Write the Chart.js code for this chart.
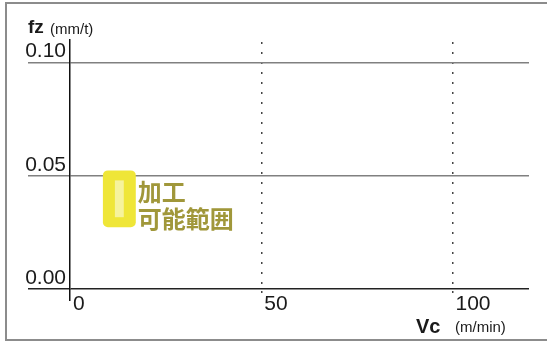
<!DOCTYPE html>
<html lang="ja">
<head>
    <meta charset="UTF-8">
    <title>加工可能範囲</title>
    <script src="https://cdn.jsdelivr.net/npm/chart.js"></script>
    <style>
        body { margin: 0; background: #fff; overflow: hidden; }
        canvas { display: block; }
    </style>
</head>
<body>
<canvas id="grafico" width="547" height="343"></canvas>
<script>
    // ejes
    const vcTicks = [0, 50, 100];
    const fzTicks = [0, 0.05, 0.10];
    const fzTickLabels = ['0.00', '0.05', '0.10'];
    const vcRange = [0, 120];
    const fzRange = [0, 0.11];

    // zona amarilla (Vc, fz)
    const zonaVc = [8.6, 17.2];
    const zonaFz = [0.0273, 0.0524];
    const zonaTexto = ['加工', '可能範囲'];

    const sans = "'Liberation Sans', Arial, sans-serif";

    // marco gris abierto a la derecha
    const marco = {
        id: 'marco',
        beforeDraw(chart) {
            const ctx = chart.ctx;
            ctx.save();
            ctx.strokeStyle = '#8c8c8c';
            ctx.lineWidth = 2;
            ctx.beginPath();
            ctx.moveTo(chart.width, 3);
            ctx.lineTo(6, 3);
            ctx.lineTo(6, 340);
            ctx.lineTo(chart.width, 340);
            ctx.stroke();
            ctx.restore();
        }
    };

    // dibuja la zona y los titulos de los ejes
    const extras = {
        id: 'extras',
        afterDraw(chart) {
            const ctx = chart.ctx;
            const x = chart.scales.x, y = chart.scales.y;
            const x0 = x.getPixelForValue(zonaVc[0]), x1 = x.getPixelForValue(zonaVc[1]);
            const y0 = y.getPixelForValue(zonaFz[1]), y1 = y.getPixelForValue(zonaFz[0]);
            ctx.save();
            ctx.fillStyle = '#efe638';
            ctx.beginPath();
            ctx.roundRect(x0, y0, x1 - x0, y1 - y0, 5);
            ctx.fill();
            ctx.fillStyle = '#f6f39c';
            ctx.fillRect(x0 + 12, y0 + 10, (x1 - x0) - 24, (y1 - y0) - 20);

            ctx.font = "bold 24px 'Noto Sans CJK JP'";
            ctx.textBaseline = 'middle';
            ctx.textAlign = 'left';
            ctx.lineJoin = 'round';
            zonaTexto.forEach((t, i) => {
                const ty = y0 + 21 + i * 27;
                ctx.strokeStyle = '#fff';
                ctx.lineWidth = 4;
                ctx.strokeText(t, x1 + 2, ty);
                ctx.fillStyle = '#a0973a';
                ctx.fillText(t, x1 + 2, ty);
            });

            // titulos
            ctx.fillStyle = '#1a1a1a';
            ctx.textBaseline = 'alphabetic';
            ctx.font = 'bold 19px ' + sans;
            ctx.fillText('fz', 28, 33);
            ctx.font = '15px ' + sans;
            ctx.fillText('(mm/t)', 50, 34);
            ctx.font = 'bold 20px ' + sans;
            ctx.fillText('Vc', 416, 333);
            ctx.font = '15px ' + sans;
            ctx.fillText('(m/min)', 455, 332);
            ctx.restore();
        }
    };

    const ctx = document.getElementById('grafico').getContext('2d');
    const grafico = new Chart(ctx, {
        type: 'scatter',
        data: { datasets: [] },
        options: {
            responsive: false,
            animation: false,
            devicePixelRatio: 1,
            layout: { padding: { left: 0, right: 18, top: 40, bottom: 0 } },
            plugins: { legend: { display: false }, tooltip: { enabled: false } },
            scales: {
                x: {
                    type: 'linear',
                    min: vcRange[0],
                    max: vcRange[1],
                    afterBuildTicks: s => { s.ticks = vcTicks.map(v => ({ value: v })); },
                    afterFit: s => { s.height = 54; },
                    border: { display: false, dash: [2, 8], dashOffset: -2 },
                    grid: {
                        color: c => c.index === 0 ? 'rgba(0,0,0,0)' : '#444',
                        lineWidth: 1.5,
                        tickLength: 12,
                        tickColor: c => c.index === 0 ? '#111' : '#444',
                        tickWidth: 1.5,
                        tickBorderDash: c => c.index === 0 ? [] : [2, 8],
                        tickBorderDashOffset: -2
                    },
                    ticks: {
                        align: 'start',
                        labelOffset: 3,
                        padding: -9,
                        maxRotation: 0,
                        autoSkip: false,
                        color: '#1a1a1a',
                        font: { family: sans, size: 21 },
                        callback: v => String(v)
                    }
                },
                y: {
                    type: 'linear',
                    min: fzRange[0],
                    max: fzRange[1],
                    afterBuildTicks: s => { s.ticks = fzTicks.map(v => ({ value: v })); },
                    afterFit: s => { s.width = 70; },
                    border: { display: true, color: '#111', width: 1.5 },
                    grid: {
                        color: c => c.index === 0 ? '#222' : '#808080',
                        lineWidth: 1.5,
                        tickLength: 42,
                        tickColor: c => c.index === 0 ? '#222' : '#808080',
                        tickWidth: 1.5
                    },
                    ticks: {
                        padding: -38,
                        labelOffset: -11,
                        autoSkip: false,
                        color: '#1a1a1a',
                        font: { family: sans, size: 21 },
                        callback: (v, i) => fzTickLabels[i]
                    }
                }
            }
        },
        plugins: [marco, extras]
    });
</script>
</body>
</html>
